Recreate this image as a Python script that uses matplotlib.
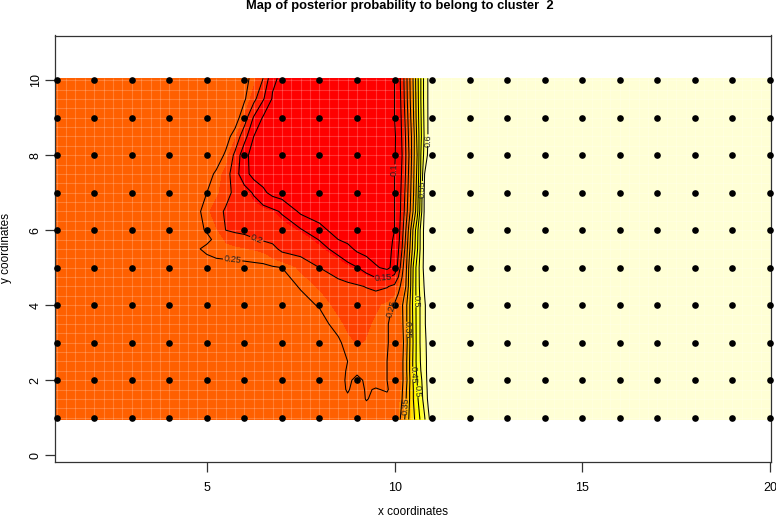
import numpy as np
import matplotlib
matplotlib.use("Agg")
import matplotlib.pyplot as plt

plt.rcParams['font.family'] = ['Liberation Sans', 'DejaVu Sans']

# sites
site_x = list(range(1, 21))
site_y = list(range(1, 11))

# posterior values, finer where the contours are tight
grid_x = [0.955, 3, 4.5, 4.75, 5, 5.25, 5.5, 5.75, 6, 6.25, 6.5, 6.75, 7, 7.5, 8, 8.5, 8.75, 9, 9.25, 9.5, 9.8,
	10, 10.1, 10.2, 10.3, 10.4, 10.5, 10.6, 10.7, 10.8, 10.9, 11, 12, 20.035]
grid_y = [10.05, 9.5, 9, 8.5, 8, 7.5, 7, 6.5, 6, 5.75, 5.5, 5, 4.5, 4, 3.5, 3, 2.5, 2.25, 2, 1.75, 1.5, 0.95]
post = [
	[.27,.27,.27,.27,.27,.27,.27,.265,.26,.24,.20,.11,.09,.08,.075,.075,.075,.075,.075,.075,.085, .10,.13,.17,.23,.295,.355,.43,.50,.57,.605,.63,.65,.65],
	[.27,.27,.27,.27,.27,.27,.27,.262,.255,.215,.155,.095,.08,.075,.075,.075,.075,.075,.075,.075,.085, .10,.125,.165,.225,.29,.35,.425,.50,.57,.605,.63,.65,.65],
	[.27,.27,.27,.27,.27,.27,.27,.27,.225,.145,.095,.08,.075,.075,.075,.075,.075,.075,.075,.075,.085, .10,.12,.16,.215,.28,.345,.42,.495,.565,.605,.63,.65,.65],
	[.27,.27,.27,.27,.27,.27,.265,.235,.17,.10,.08,.075,.075,.075,.075,.075,.075,.075,.075,.075,.085, .095,.115,.155,.205,.27,.33,.41,.49,.56,.605,.63,.65,.65],
	[.27,.27,.27,.27,.27,.268,.245,.19,.115,.08,.075,.075,.075,.075,.075,.075,.075,.075,.075,.075,.085, .095,.12,.15,.20,.26,.335,.40,.50,.57,.61,.635,.65,.65],
	[.27,.27,.27,.27,.262,.245,.225,.17,.12,.08,.075,.075,.075,.075,.075,.075,.075,.075,.075,.075,.085, .10,.125,.155,.205,.27,.34,.41,.505,.60,.625,.64,.65,.65],
	[.27,.27,.265,.258,.25,.24,.215,.19,.17,.145,.11,.085,.075,.075,.075,.075,.075,.075,.075,.075,.085, .10,.13,.16,.215,.28,.345,.42,.52,.61,.63,.64,.65,.65],
	[.27,.27,.262,.255,.24,.215,.195,.185,.18,.175,.17,.16,.145,.09,.075,.075,.075,.075,.075,.075,.085, .10,.13,.165,.225,.29,.355,.43,.53,.61,.63,.64,.65,.65],
	[.27,.27,.262,.255,.248,.235,.20,.192,.19,.19,.185,.18,.175,.155,.115,.08,.075,.075,.075,.075,.085, .10,.13,.18,.25,.325,.41,.48,.565,.615,.63,.64,.65,.65],
	[.27,.27,.265,.26,.255,.245,.23,.222,.212,.202,.195,.19,.185,.175,.148,.10,.088,.08,.075,.075,.085, .105,.135,.19,.26,.335,.415,.485,.565,.615,.63,.64,.65,.65],
	[.27,.27,.258,.252,.245,.24,.24,.238,.235,.232,.228,.212,.19,.18,.165,.135,.115,.09,.08,.075,.085, .11,.145,.20,.27,.345,.42,.49,.565,.615,.63,.64,.65,.65],
	[.27,.27,.268,.265,.262,.26,.258,.258,.258,.257,.256,.253,.25,.228,.20,.178,.165,.152,.13,.105,.09, .115,.165,.235,.285,.37,.455,.52,.575,.615,.63,.64,.65,.65],
	[.27,.27,.27,.27,.268,.265,.265,.265,.265,.265,.264,.262,.26,.248,.23,.215,.21,.205,.198,.19,.197, .21,.235,.265,.30,.375,.46,.52,.57,.605,.63,.64,.65,.65],
	[.27,.27,.27,.27,.27,.27,.27,.27,.268,.268,.268,.265,.264,.258,.248,.225,.222,.222,.225,.23,.24, .255,.275,.295,.335,.395,.465,.515,.56,.595,.62,.635,.65,.65],
	[.27,.27,.27,.27,.27,.27,.27,.27,.27,.27,.27,.268,.266,.263,.26,.24,.228,.226,.23,.238,.248, .26,.27,.29,.335,.395,.46,.515,.56,.595,.62,.635,.65,.65],
	[.27,.27,.27,.27,.27,.27,.27,.27,.27,.27,.27,.27,.27,.268,.266,.255,.24,.232,.236,.24,.248, .26,.27,.285,.325,.395,.455,.515,.56,.59,.615,.635,.65,.65],
	[.27,.27,.27,.27,.27,.27,.27,.27,.27,.27,.27,.27,.27,.27,.268,.262,.25,.24,.242,.245,.25, .26,.27,.29,.335,.40,.46,.515,.555,.585,.615,.635,.65,.65],
	[.27,.27,.27,.27,.27,.27,.27,.27,.27,.27,.27,.27,.27,.27,.27,.262,.247,.245,.243,.246,.25, .26,.27,.29,.335,.40,.46,.51,.55,.585,.615,.635,.65,.65],
	[.27,.27,.27,.27,.27,.27,.27,.27,.27,.27,.27,.27,.27,.27,.27,.262,.245,.256,.246,.24,.25, .265,.275,.29,.33,.395,.455,.50,.54,.58,.615,.635,.65,.65],
	[.27,.27,.27,.27,.27,.27,.27,.27,.27,.27,.27,.27,.27,.27,.27,.262,.247,.262,.247,.252,.247, .265,.275,.295,.34,.40,.45,.495,.535,.575,.612,.632,.65,.65],
	[.27,.27,.27,.27,.27,.27,.27,.27,.27,.27,.27,.27,.27,.27,.27,.268,.255,.265,.248,.258,.258, .27,.28,.30,.345,.40,.45,.49,.53,.57,.61,.63,.65,.65],
	[.27,.27,.27,.27,.27,.27,.27,.27,.27,.27,.27,.27,.27,.27,.27,.27,.27,.27,.27,.27,.27, .27,.285,.315,.365,.41,.44,.47,.51,.545,.59,.625,.65,.65],
]

# heat colours and where they change
fill_breaks = [0, .16, .2, .235, .29, .335, .38, .425, .47, .515, .56, .605, 1]
fill_colors = ['#FF0000', '#FF2000', '#FF4000', '#FF6000', '#FF8000', '#FF9F00',
	'#FFBF00', '#FFDF00', '#FFFF00', '#FFFF2A', '#FFFF80', '#FFFFD5']
line_levels = [.1, .15, .2, .25, .3, .35, .4, .45, .5, .55, .6]
label_spots = [(9.98, 7.6), (10.86, 8.4), (10.75, 7.1), (6.3, 5.73), (5.69, 5.23), (9.7, 4.7),
	(9.55, 3.95), (10.57, 4.1), (10.3, 3.35), (10.46, 2.15), (10.62, 1.7), (10.3, 1.3)]

fig = plt.figure(figsize=(7.76, 5.18), dpi=100)
ax = fig.add_axes([55/776, 1-462.3/518, (771.3-55)/776, (462.3-35.5)/518])

z = np.array(post)
ax.contourf(grid_x, grid_y, z, levels=fill_breaks, colors=fill_colors, zorder=1)

# thin pale seams of the raster
seam_x = np.arange(1, 20.01, 0.25)
seam_y = np.arange(1, 10.01, 0.25)
ax.vlines(seam_x, 0.95, 10.05, color='white', alpha=0.2, lw=0.8, zorder=2)
ax.hlines(seam_y, 0.955, 20.035, color='white', alpha=0.2, lw=0.8, zorder=2)

cs = ax.contour(grid_x, grid_y, z, levels=line_levels, colors='black', linewidths=0.75, zorder=3)
ax.clabel(cs, fmt='%g', fontsize=6.5, inline=True, inline_spacing=1, manual=label_spots, colors='#222222')

xx, yy = np.meshgrid(site_x, site_y)
ax.scatter(xx.ravel(), yy.ravel(), s=23, c='black', linewidths=0, zorder=4, clip_on=False)

ax.set_xlim(0.955, 20.035)
ax.set_ylim(-0.19, 11.19)
ax.set_xticks([5, 10, 15, 20])
ax.set_yticks([0, 2, 4, 6, 8, 10])
ax.tick_params(length=7, width=0.9, color='#333333', labelsize=9)
ax.tick_params(axis='x', pad=7)
ax.tick_params(axis='y', pad=2.5)
for lab in ax.get_yticklabels():
	lab.set_rotation(90)
	lab.set_va('center')
for s in ax.spines.values():
	s.set_linewidth(0.9)
	s.set_color('#333333')

fig.text(399.5/776, 1-6.5/518, "Map of posterior probability to belong to cluster  2",
	ha='center', va='center', fontsize=9.26, fontweight='bold')
fig.text(413/776, 1-512/518, "x coordinates", ha='center', va='center', fontsize=8.5)
fig.text(6.5/776, 1-248/518, "y coordinates", ha='center', va='center', rotation=90, fontsize=8.5)

fig.savefig("out.png", dpi=100)
